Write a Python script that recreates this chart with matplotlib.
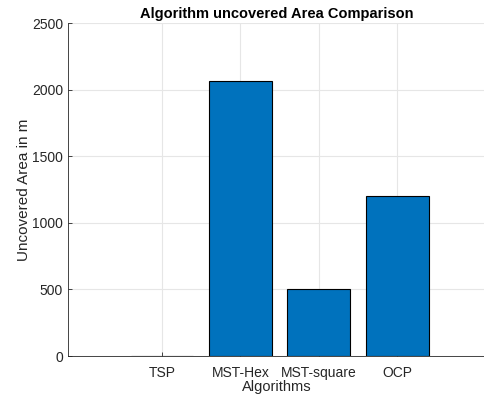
import numpy as np
import matplotlib
matplotlib.use("Agg")
import matplotlib.pyplot as plt

algorithms = ['TSP', 'MST-Hex', 'MST-square', 'OCP']
uncovered_area = [0, 2062, 505, 1200]

plt.rcParams['font.family'] = ['Liberation Sans', 'DejaVu Sans']

fig = plt.figure(figsize=(4.85, 3.98), dpi=100)
ax = fig.add_axes([0.140, 0.1055, 0.86, 0.8365])

pos = np.arange(1, len(algorithms) + 1)
ax.bar(pos, uncovered_area, width=0.8, color='#0072BD', edgecolor='black', linewidth=0.8, zorder=3)

ax.set_xlim(-0.2, 5.12)
ax.set_ylim(0, 2500)
ax.set_xticks(pos)
ax.set_xticklabels(algorithms)
ax.set_yticks([0, 500, 1000, 1500, 2000, 2500])
ax.grid(True, color='#e6e6e6', linewidth=0.8, zorder=0)
ax.tick_params(direction='in', length=3, labelsize=10, colors='#262626', width=0.6)
ax.tick_params(axis='x', pad=7)
for s in ['top', 'right']:
    ax.spines[s].set_visible(False)
for s in ['left', 'bottom']:
    ax.spines[s].set_color('#262626')
    ax.spines[s].set_linewidth(0.6)

ax.set_xlabel('Algorithms', fontsize=10.5, color='#262626', labelpad=0)
ax.set_ylabel('Uncovered Area in m', fontsize=11, color='#262626', labelpad=1)
ax.set_title('Algorithm uncovered Area Comparison', fontsize=10.5, fontweight='bold', pad=4)

fig.savefig('out.png', dpi=100)
